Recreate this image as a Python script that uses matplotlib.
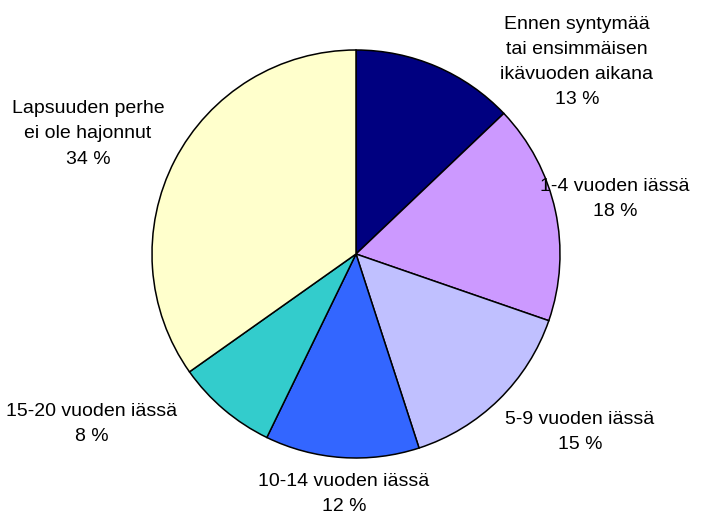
import matplotlib
matplotlib.use('Agg')
import matplotlib.pyplot as plt

# Data (slice shares; printed percentages as shown)
labels = ["Ennen syntymää\ntai ensimmäisen\nikävuoden aikana",
          "1-4 vuoden iässä",
          "5-9 vuoden iässä",
          "10-14 vuoden iässä",
          "15-20 vuoden iässä",
          "Lapsuuden perhe\nei ole hajonnut"]
values = [12.9, 17.4, 14.7, 12.2, 8.0, 34.8]
pct_text = ["13 %", "18 %", "15 %", "12 %", "8 %", "34 %"]
colors = ["#000080", "#CC99FF", "#C0C0FF", "#3366FF", "#33CCCC", "#FFFFCC"]

# label centres in pixels (x, y from top), converted below
label_px = [(577, 62), (615, 199), (580, 432), (344, 494), (92, 424), (88, 134)]

plt.rcParams['font.family'] = ['Liberation Sans', 'DejaVu Sans']

W, H = 720, 513
cx, cy, r = 356, 254, 204

fig = plt.figure(figsize=(W / 100, H / 100), dpi=100)
ax = fig.add_axes([0, 0, 1, 1])
ax.pie(values, colors=colors, startangle=90, counterclock=False, radius=1,
       wedgeprops=dict(edgecolor='black', linewidth=1.1))
ax.set_xlim(-cx / r, (W - cx) / r)
ax.set_ylim(-(H - cy) / r, cy / r)
ax.set_aspect('auto')
ax.axis('off')

for lab, p, (px, py) in zip(labels, pct_text, label_px):
    x = (px - cx) / r
    y = (cy - py) / r
    ax.text(x, y, f"{lab}\n{p}", ha='center', va='center', fontsize=14,
            linespacing=1.62, color='black')

fig.savefig('out.png', dpi=100)
